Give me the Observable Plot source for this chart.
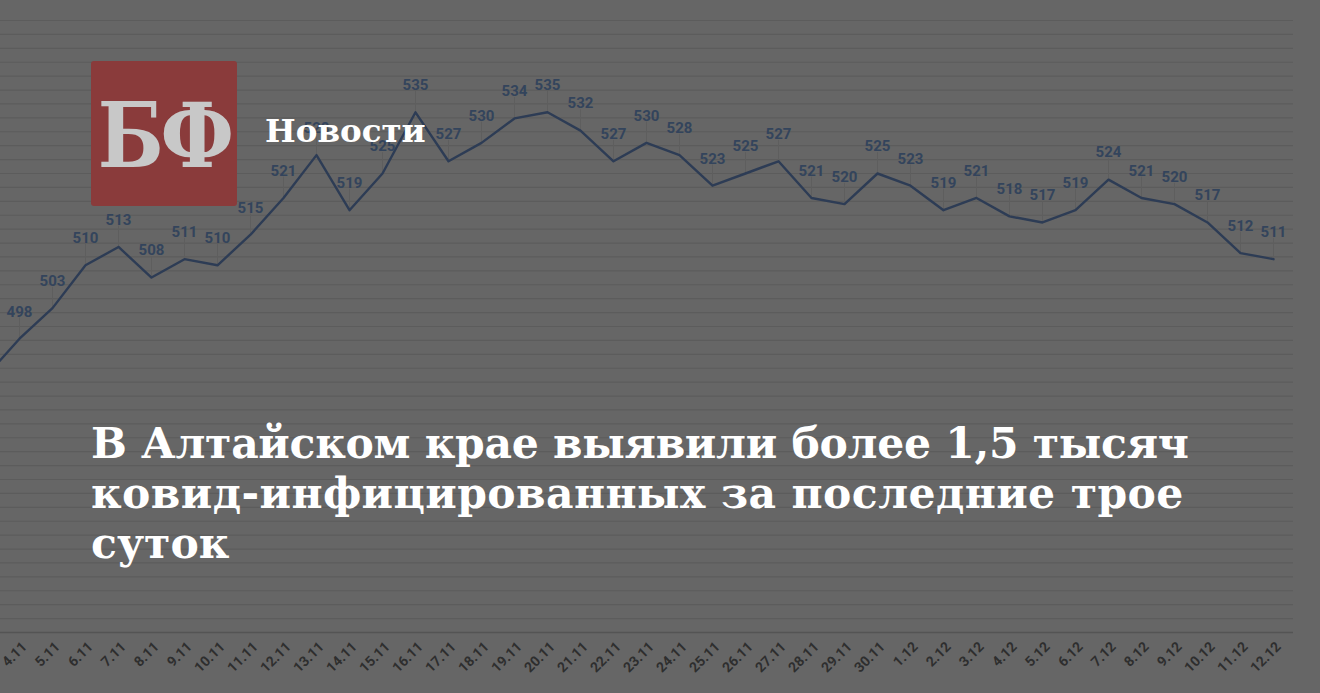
<!DOCTYPE html>
<html>
<head>
<meta charset="utf-8">
<script src="https://cdn.jsdelivr.net/npm/d3@7"></script>
<script src="https://cdn.jsdelivr.net/npm/@observablehq/plot@0.6"></script>
<style>
  html, body { margin: 0; padding: 0; background: #666666; width: 1320px; height: 693px; overflow: hidden; }
  #chart { position: absolute; left: 0; top: 0; }
  #logo { position: absolute; left: 91px; top: 61px; width: 146px; height: 145px; background: #8a3b3b; border-radius: 3px;
          display: flex; align-items: center; justify-content: center; }
  #logo span { font-family: "DejaVu Serif"; font-weight: bold; font-size: 90px; color: #c8c8c8; line-height: 1; letter-spacing: -4px; transform: scaleX(0.86); display: inline-block; margin-top: 2px; }
  #brand { position: absolute; left: 265px; top: 115px; font-family: "DejaVu Serif"; font-weight: bold; font-size: 32.5px; line-height: 32.5px; color: #ffffff; }
  #title { position: absolute; left: 91px; top: 418px; font-family: "DejaVu Serif"; font-weight: bold; font-size: 42.5px; line-height: 50px; color: #ffffff; white-space: nowrap; }
  #title .l1 { letter-spacing: -0.3px; }
  #title .l2 { letter-spacing: 0.4px; }
</style>
</head>
<body>
<div id="chart"></div>
<div id="logo"><span>БФ</span></div>
<div id="brand">Новости</div>
<div id="title"><span class="l1">В Алтайском крае выявили более 1,5 тысяч</span><br><span class="l2">ковид-инфицированных за последние трое</span><br>суток</div>
<script>
const dates = ["3.11","4.11","5.11","6.11","7.11","8.11","9.11","10.11","11.11","12.11","13.11","14.11","15.11","16.11","17.11","18.11","19.11","20.11","21.11","22.11","23.11","24.11","25.11","26.11","27.11","28.11","29.11","30.11","1.12","2.12","3.12","4.12","5.12","6.12","7.12","8.12","9.12","10.12","11.12","12.12"];
const values = [492,498,503,510,513,508,511,510,515,521,528,519,525,535,527,530,534,535,532,527,530,528,523,525,527,521,520,525,523,519,521,518,517,519,524,521,520,517,512,511];
const yDomain = [450, 550];
const gridCount = 44;

const table = dates.map((d, i) => ({date: d, value: values[i]}));
const visible = table.slice(1);
const gridTicks = d3.range(gridCount + 1).map(i => yDomain[0] + i * (yDomain[1] - yDomain[0]) / gridCount);

const chart = Plot.plot({
  width: 1320,
  height: 693,
  marginTop: 20,
  marginBottom: 61,
  marginLeft: 0,
  marginRight: 27,
  style: {background: "transparent", fontFamily: "Roboto"},
  x: {type: "point", domain: dates, range: [-15.1, 1275], padding: 0, axis: null},
  y: {domain: yDomain, axis: null},
  marks: [
    Plot.ruleY(gridTicks, {stroke: "#5c5c5c", strokeWidth: 1.2}),
    Plot.ruleY([yDomain[0]], {stroke: "#545454", strokeWidth: 1.5}),
    Plot.ruleX(visible, {x: "date", y1: "value", y2: d => d.value + 3.4, stroke: "#5e5e5e", strokeWidth: 1}),
    Plot.line(table, {x: "date", y: "value", stroke: "#2d3c55", strokeWidth: 2.4}),
    Plot.text(visible, {x: "date", y: "value", text: d => String(d.value), dy: -27, fill: "#33445c", fontSize: 15, fontWeight: "bold"}),
    Plot.axisX({ticks: dates.slice(1), label: null, tickRotate: -45, tickSize: 0, tickPadding: 12, dx: 5, fontSize: 14, fontWeight: "bold", fill: "#2e2e2e"})
  ]
});
document.getElementById("chart").appendChild(chart);
</script>
</body>
</html>
